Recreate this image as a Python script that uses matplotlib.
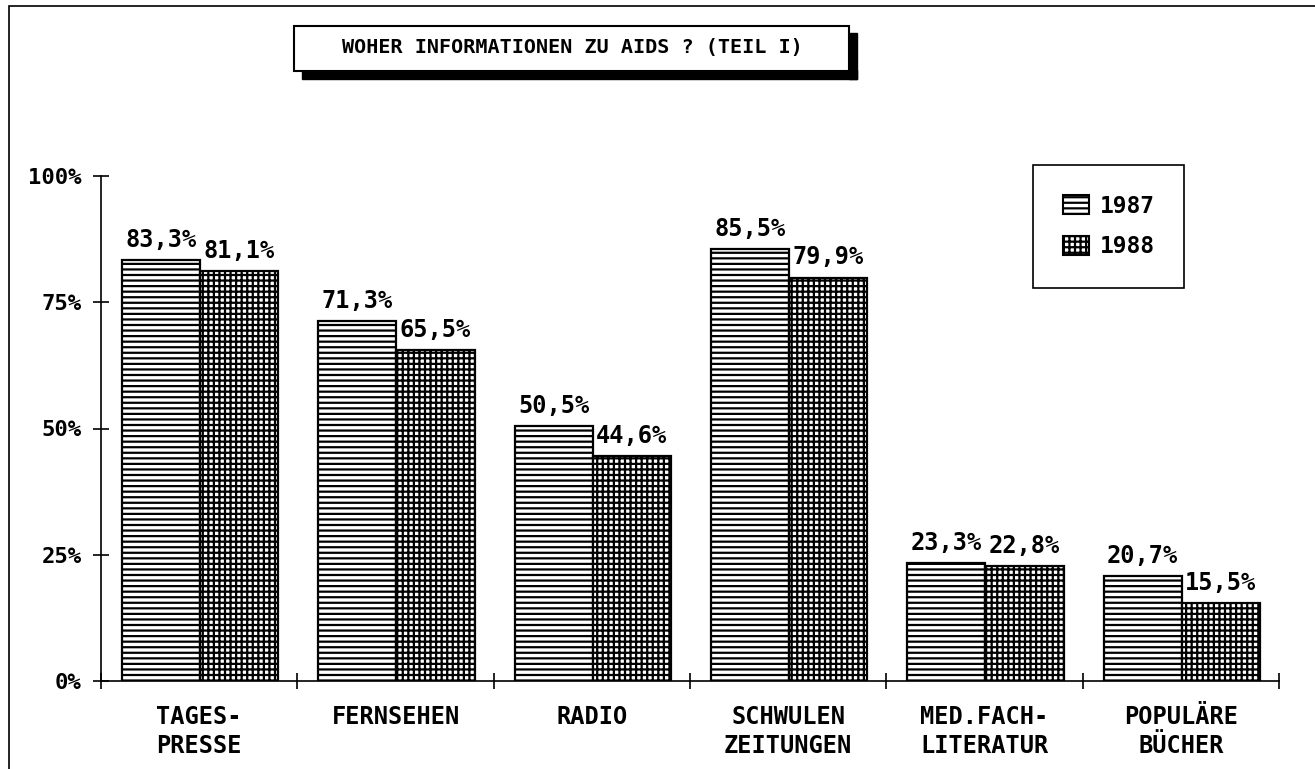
import numpy as np
import matplotlib
matplotlib.use("Agg")
import matplotlib.pyplot as plt
from matplotlib.patches import Rectangle, Patch

categories = ["TAGES-\nPRESSE", "FERNSEHEN", "RADIO", "SCHWULEN\nZEITUNGEN",
              "MED.FACH-\nLITERATUR", "POPULÄRE\nBÜCHER"]
values_1987 = [83.3, 71.3, 50.5, 85.5, 23.3, 20.7]
values_1988 = [81.1, 65.5, 44.6, 79.9, 22.8, 15.5]
years = ["1987", "1988"]
yticks = [0, 25, 50, 75, 100]
title = "WOHER INFORMATIONEN ZU AIDS ? (TEIL I)"

W, H = 1315, 769
plt.rcParams["hatch.linewidth"] = 1.6
font = dict(family="DejaVu Sans Mono", weight="bold")

fig = plt.figure(figsize=(W / 100, H / 100), dpi=100)

def fx(px):
    return px / W

def fy(py):
    return 1 - py / H

# outer frame
fig.patches.append(Rectangle((fx(9), fy(H + 20)), 2, fy(6) - fy(H + 20),
                             transform=fig.transFigure, fill=False,
                             edgecolor="black", linewidth=1.2))

ax = fig.add_axes([fx(101), fy(681), fx(1279) - fx(101), fy(176) - fy(681)])
n = len(categories)
x = np.arange(n)
bw = 0.398
off = 0.107
b1 = ax.bar(x + off, values_1987, bw, align="edge", color="white",
            edgecolor="black", hatch="---", linewidth=1.6)
b2 = ax.bar(x + off + bw, values_1988, bw, align="edge", color="white",
            edgecolor="black", hatch="+++", linewidth=1.6)

for bars, vals in ((b1, values_1987), (b2, values_1988)):
    for r, v in zip(bars, vals):
        ax.text(r.get_x() + r.get_width() / 2, v + 1.6,
                f"{v:.1f}%".replace(".", ","), ha="center", va="bottom",
                fontsize=17, clip_on=False, **font)

ax.set_xlim(0, n)
ax.set_ylim(0, 100)
ax.set_xticks(np.arange(n + 1))
ax.set_xticklabels([])
ax.set_xticks(x + 0.5, minor=True)
ax.set_xticklabels(categories, minor=True, fontsize=17, linespacing=1.3, **font)
ax.tick_params(axis="x", which="minor", length=0, pad=17)
ax.tick_params(axis="x", which="major", direction="inout", length=12, width=1.2)
ax.set_yticks(yticks)
ax.set_yticklabels([f"{t}%" for t in yticks], fontsize=16, **font)
ax.tick_params(axis="y", direction="inout", length=12, width=1.2, pad=8)
for s in ("top", "right"):
    ax.spines[s].set_visible(False)
for s in ("left", "bottom"):
    ax.spines[s].set_linewidth(1.2)

# legend
handles = [Patch(facecolor="white", edgecolor="black", hatch="---", linewidth=1.5, label=years[0]),
           Patch(facecolor="white", edgecolor="black", hatch="+++", linewidth=1.5, label=years[1])]
leg = fig.legend(handles=handles, loc="upper left",
                 bbox_to_anchor=(fx(1033), fy(165)),
                 bbox_transform=fig.transFigure,
                 frameon=True, fancybox=False, edgecolor="black", framealpha=1,
                 prop=dict(size=16.5, **font), handlelength=1.15, handleheight=0.9,
                 borderpad=1.3, labelspacing=0.75, borderaxespad=0,
                 handletextpad=0.45)
leg.get_frame().set_linewidth(1.2)

# title box with shadow
fig.patches.append(Rectangle((fx(302), fy(79)), fx(857) - fx(302), fy(70) - fy(79),
                             transform=fig.transFigure, color="black"))
fig.patches.append(Rectangle((fx(849), fy(79)), fx(857) - fx(849), fy(33) - fy(79),
                             transform=fig.transFigure, color="black"))
fig.patches.append(Rectangle((fx(294), fy(71)), fx(849) - fx(294), fy(26) - fy(71),
                             transform=fig.transFigure, facecolor="white",
                             edgecolor="black", linewidth=1.5))
fig.text(fx(572), fy(47), title, ha="center", va="center", fontsize=14.5, **font)

fig.savefig("out.png", dpi=100)
